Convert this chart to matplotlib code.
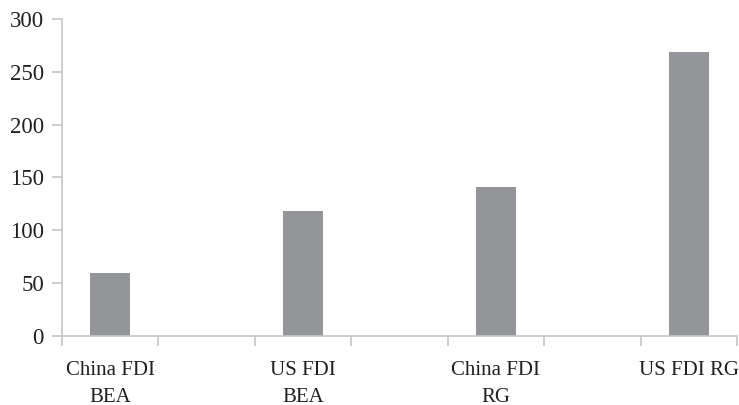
import matplotlib
matplotlib.use("Agg")
import matplotlib.pyplot as plt

# Excel-style layout: 7 slots, bars in every other one
categories = ["China FDI\nBEA", "", "US FDI\nBEA", "", "China FDI\nRG", "", "US FDI RG"]
values = [60, None, 118, None, 141, None, 269]

bar_color = "#939598"
axis_color = "#c6c6c6"
text_color = "#231f20"

plt.rcParams["font.family"] = ["Liberation Serif", "DejaVu Serif"]

fig = plt.figure(figsize=(7.39, 4.05), dpi=100)
ax = fig.add_axes([0.0839, 0.1704, 0.9134, 0.7827])

xs = [i for i, v in enumerate(values) if v is not None]
hs = [v for v in values if v is not None]
ax.bar(xs, hs, width=0.415, color=bar_color)

ax.set_xlim(-0.5, len(categories) - 0.5)
ax.set_ylim(0, 300)
ax.set_yticks(range(0, 301, 50))

# category labels centered on slots, ticks on slot boundaries
ax.set_xticks(range(len(categories)))
ax.set_xticklabels(categories, linespacing=1.55, va="top")
ax.set_xticks([i - 0.5 for i in range(len(categories) + 1)], minor=True)
ax.tick_params(axis="x", which="major", length=0, pad=18, labelsize=15, labelcolor=text_color)
ax.tick_params(axis="x", which="minor", length=7, width=1.2, color=axis_color, direction="out")
ax.tick_params(axis="y", length=7, width=1.2, color=axis_color, pad=6, labelsize=16.5, labelcolor=text_color)

for s in ["top", "right"]:
    ax.spines[s].set_visible(False)
for s in ["left", "bottom"]:
    ax.spines[s].set_color(axis_color)
    ax.spines[s].set_linewidth(1.2)

fig.savefig("out.png", dpi=100)
